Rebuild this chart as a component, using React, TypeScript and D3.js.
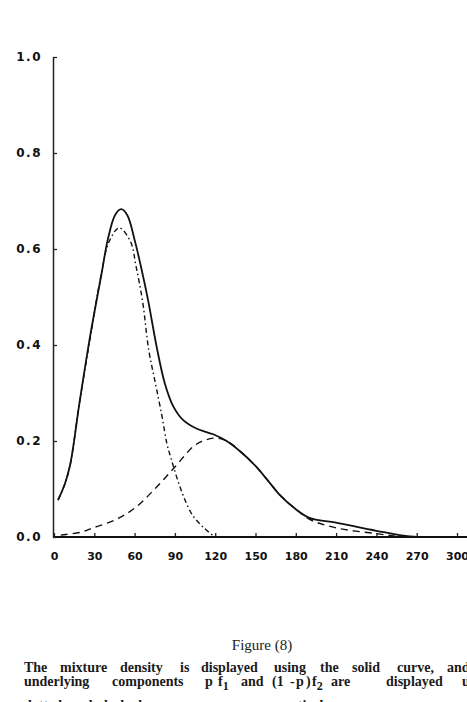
import React, { useEffect, useRef } from "react";
import * as d3 from "d3";

// mixture density (solid)
const mixX = [3, 8, 12, 19, 27, 35.5, 40, 45.5, 50, 54.5, 60, 65, 70, 76.5, 82.5, 89, 96, 106, 118.5, 128.5, 140, 150, 160, 168, 180, 190, 210, 240, 265, 290, 320];
const mixY = [0.077, 0.11, 0.15, 0.28, 0.42, 0.55, 0.619, 0.671, 0.683, 0.671, 0.619, 0.56, 0.494, 0.395, 0.32, 0.271, 0.244, 0.226, 0.214, 0.2, 0.175, 0.148, 0.115, 0.088, 0.058, 0.04, 0.03, 0.013, 0.001, 0.0, 0.0];

// p f1 (dash-dot)
const f1X = [3, 8, 12, 19, 27, 35, 41, 48.5, 57, 61, 66, 70.5, 75.5, 80.5, 84, 87, 95, 103, 112, 118];
const f1Y = [0.077, 0.11, 0.15, 0.28, 0.415, 0.545, 0.615, 0.644, 0.615, 0.565, 0.49, 0.39, 0.32, 0.25, 0.195, 0.165, 0.095, 0.046, 0.018, 0.004];

// (1 - p) f2 (dashed)
const f2X = [5, 20, 30, 45, 60, 75, 90, 103.5, 110, 118.5, 125, 131, 140, 150, 160, 168, 180, 190, 210, 240, 258, 290, 320];
const f2Y = [0.004, 0.01, 0.02, 0.035, 0.06, 0.1, 0.146, 0.188, 0.199, 0.206, 0.204, 0.196, 0.175, 0.148, 0.115, 0.088, 0.058, 0.037, 0.019, 0.007, 0.001, 0.0, 0.0];

const xTicks = [0, 30, 60, 90, 120, 150, 180, 210, 240, 270, 300];
const yTicks = [0, 0.2, 0.4, 0.6, 0.8, 1.0];

const captionLine1: [string, number][] = [
  ["The", 24], ["mixture", 60], ["density", 120], ["is", 180], ["displayed", 201],
  ["using", 274], ["the", 320], ["solid", 352], ["curve,", 397], ["and", 447],
];
const captionLine2: [string, number][] = [
  ["underlying", 24], ["components", 112], ["p", 205], ["f", 218], ["and", 241],
  ["(1", 272], ["-", 290], ["p", 296], [")", 306], ["f", 312], ["are", 331],
  ["displayed", 386], ["u", 462],
];
const captionLine3: [string, number][] = [
  ["dotted", 24], ["and", 70], ["dashed", 100], ["curves,", 170], ["respectively.", 260],
];

function App() {
  const ref = useRef<SVGSVGElement | null>(null);

  useEffect(() => {
    const svg = d3.select(ref.current);
    svg.selectAll("*").remove();

    const x = d3.scaleLinear().domain([0, 300]).range([54, 457]);
    const y = d3.scaleLinear().domain([0, 1]).range([537, 57]);
    const font = "'DejaVu Sans', sans-serif";

    // axes
    const gx = svg
      .append("g")
      .attr("transform", `translate(0,${y(0)})`)
      .call(
        d3.axisBottom(x).tickValues(xTicks).tickSize(-4).tickSizeOuter(0).tickPadding(15).tickFormat(d3.format("d"))
      );
    gx.select(".domain").remove();
    gx.selectAll("line").attr("stroke", "#222").attr("stroke-width", 1.3);
    gx.selectAll("text")
      .attr("font-family", font)
      .attr("font-weight", "bold")
      .attr("font-size", 11)
      .attr("fill", "#111");

    svg
      .append("line")
      .attr("x1", 53)
      .attr("x2", 467)
      .attr("y1", y(0))
      .attr("y2", y(0))
      .attr("stroke", "#111")
      .attr("stroke-width", 1.8);

    const gy = svg
      .append("g")
      .attr("transform", `translate(53,0)`)
      .call(
        d3.axisLeft(y).tickValues(yTicks).tickSize(-4).tickSizeOuter(0).tickPadding(11).tickFormat(d3.format(".1f"))
      );
    gy.select(".domain").attr("stroke", "#222").attr("stroke-width", 1.5);
    gy.selectAll("line").attr("stroke", "#222").attr("stroke-width", 1.3);
    gy.selectAll("text")
      .attr("font-family", font)
      .attr("font-weight", "bold")
      .attr("font-size", 12)
      .attr("letter-spacing", 1.5)
      .attr("fill", "#111");

    // curves
    const line = d3
      .line<[number, number]>()
      .x((d) => x(d[0]))
      .y((d) => y(d[1]))
      .curve(d3.curveCatmullRom.alpha(0.5));

    svg
      .append("defs")
      .append("clipPath")
      .attr("id", "plot-clip")
      .append("rect")
      .attr("x", 53)
      .attr("y", 40)
      .attr("width", 420)
      .attr("height", 497.5);

    const series = [
      { xs: f2X, ys: f2Y, dash: "7,5", width: 1.4 },
      { xs: f1X, ys: f1Y, dash: "5,3,1.5,3", width: 1.4 },
      { xs: mixX, ys: mixY, dash: null, width: 1.8 },
    ];
    series.forEach((s) => {
      const pts: [number, number][] = s.xs.map((v, i) => [v, s.ys[i]]);
      svg
        .append("path")
        .datum(pts)
        .attr("d", line)
        .attr("fill", "none")
        .attr("stroke", "#111")
        .attr("stroke-width", s.width)
        .attr("stroke-dasharray", s.dash)
        .attr("clip-path", "url(#plot-clip)");
    });

    // caption
    const serif = "'Liberation Serif', 'Times New Roman', serif";
    svg
      .append("text")
      .attr("x", 262)
      .attr("y", 650)
      .attr("text-anchor", "middle")
      .attr("font-family", serif)
      .attr("font-size", 15)
      .attr("fill", "#222")
      .text("Figure  (8)");

    const drawLine = (words: [string, number][], baseline: number, subs: boolean) => {
      words.forEach(([w, wx]) => {
        const t = svg
          .append("text")
          .attr("x", wx)
          .attr("y", baseline)
          .attr("font-family", serif)
          .attr("font-size", 14)
          .attr("font-weight", "bold")
          .attr("fill", "#1a1a1a")
          .text(w);
        if (subs && w === "f") {
          t.append("tspan")
            .attr("dy", 4)
            .attr("font-size", 12)
            .text(wx < 250 ? "1" : "2");
        }
      });
    };
    drawLine(captionLine1, 672, false);
    drawLine(captionLine2, 686, true);
    drawLine(captionLine3, 710, false);
  }, []);

  return (
    <svg
      ref={ref}
      width={467}
      height={702}
      style={{ position: "absolute", left: 0, top: 0, background: "#fff" }}
    />
  );
}

export default App;
